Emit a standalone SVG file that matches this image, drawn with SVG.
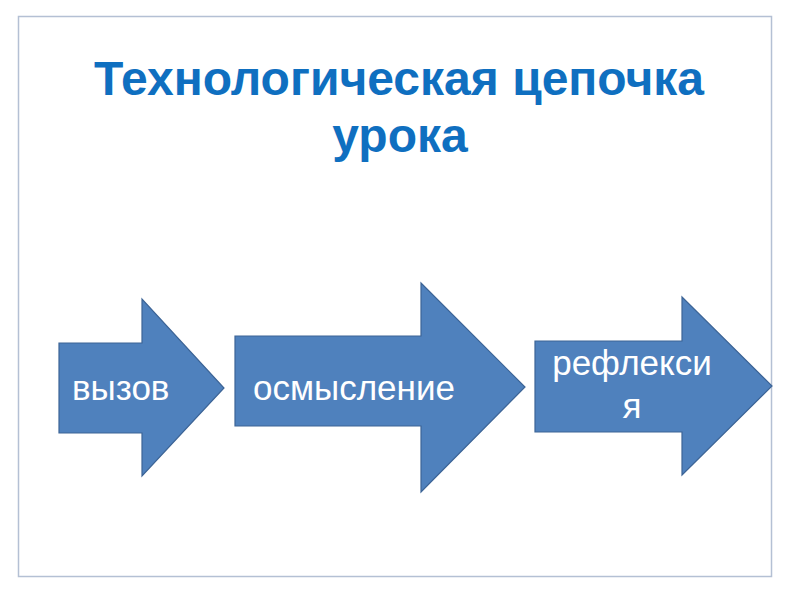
<svg xmlns="http://www.w3.org/2000/svg" width="800" height="600" viewBox="0 0 800 600">
<style>
.title{font-family:"Liberation Sans",Arial,sans-serif;font-weight:bold;font-size:48px;fill:#0f6fc0;text-anchor:middle}
.arrow{fill:#4f81bd;stroke:#3c6496;stroke-width:1.2}
.lbl{font-family:"Liberation Sans",Arial,sans-serif;font-size:35px;fill:#ffffff}
</style>
<rect width="800" height="600" fill="#ffffff"/>
<rect x="18.5" y="16.5" width="753" height="560" fill="#ffffff" stroke="#b4c0d4" stroke-width="1.5"/>
<g id="title">
<text class="title" x="399" y="95">Технологическая цепочка</text>
<text class="title" x="400" y="152">урока</text>
</g>
<g id="connectors"></g>
<g id="node-vyzov">
<polygon class="arrow" points="59,343 142,343 142,299 224,388 142,476 142,433 59,433"/>
<text class="lbl" x="72" y="400">вызов</text>
</g>
<g id="node-osmyslenie">
<polygon class="arrow" points="235,336 421,336 421,283 525,387 421,492 421,426 235,426"/>
<text class="lbl" x="253" y="400">осмысление</text>
</g>
<g id="node-refleksiya">
<polygon class="arrow" points="535,341 682,341 682,297 772,386 682,475 682,432 535,432"/>
<text class="lbl" x="632" y="375" text-anchor="middle">рефлекси</text>
<text class="lbl" x="632" y="418" text-anchor="middle">я</text>
</g>
</svg>
